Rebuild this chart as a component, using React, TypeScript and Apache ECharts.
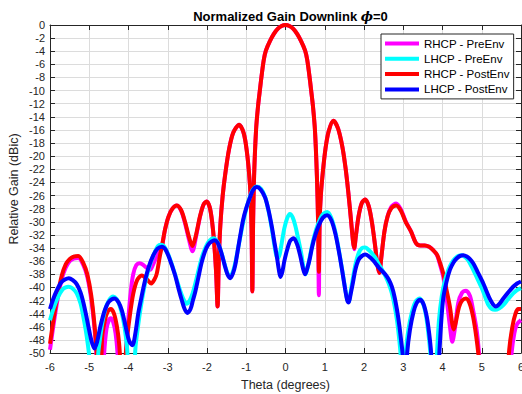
import React, { useEffect, useRef } from "react";
import * as echarts from "echarts";

const xTicks = [-6, -5, -4, -3, -2, -1, 0, 1, 2, 3, 4, 5, 6];
const seriesNames = ["RHCP - PreEnv", "LHCP - PreEnv", "RHCP - PostEnv", "LHCP - PostEnv"];
const seriesColors = ["#ff00ff", "#00ffff", "#ff0000", "#0000ff"];

const mainLobe: number[][] = [
  [-0.825, -30], [-0.8, -23], [-0.75, -16], [-0.7, -12.4], [-0.65, -9.8], [-0.6, -7.3], [-0.55, -5.2], [-0.5, -3.9],
  [-0.4, -2.5], [-0.3, -1.4], [-0.2, -0.6], [-0.1, -0.15], [0, 0], [0.1, -0.15], [0.2, -0.6], [0.3, -1.4], [0.4, -2.5],
  [0.5, -3.9], [0.55, -5.2], [0.6, -7.3], [0.65, -9.8], [0.7, -12.4], [0.75, -16], [0.8, -23], [0.83, -30],
];

const rhcpPost: number[][] = [
  [-6.0, -48.6], [-5.9, -44.5], [-5.8, -41], [-5.7, -38.2], [-5.6, -36.5], [-5.5, -35.7], [-5.4, -35.3], [-5.28, -35.2],
  [-5.15, -36.3], [-5.05, -38], [-4.95, -41.2], [-4.87, -45.5], [-4.81, -50], [-4.76, -57], [-4.71, -55], [-4.67, -47.5],
  [-4.6, -45], [-4.53, -43.7], [-4.45, -43.3], [-4.37, -44], [-4.3, -45.8], [-4.24, -48.5], [-4.19, -53], [-4.14, -57],
  [-4.09, -52], [-4.04, -48], [-3.97, -44.5], [-3.88, -41], [-3.78, -38.9], [-3.66, -38.2], [-3.54, -38.7], [-3.42, -39.4],
  [-3.34, -38.8], [-3.28, -37.9], [-3.2, -35.2], [-3.15, -33.8], [-3.07, -31.2], [-2.98, -29.2], [-2.88, -28], [-2.77, -27.5],
  [-2.66, -28.2], [-2.56, -30], [-2.46, -32.3], [-2.37, -33.7], [-2.28, -32], [-2.18, -29.2], [-2.09, -27.4], [-2.01, -26.9],
  [-1.93, -27.8], [-1.87, -30], [-1.82, -33], [-1.77, -37.5], [-1.73, -42.9], [-1.7, -36], [-1.66, -30.5], [-1.6, -26],
  [-1.53, -22.5], [-1.44, -19], [-1.33, -16.4], [-1.18, -15.2], [-1.06, -16.6], [-0.98, -19.5], [-0.93, -22.5], [-0.89, -26],
  [-0.865, -31], [-0.845, -40.6],
  ...mainLobe,
  [0.85, -37.6], [0.87, -30], [0.9, -26], [0.95, -22.5], [1.02, -18.8], [1.1, -16.2], [1.22, -14.6], [1.34, -15.8],
  [1.45, -18.6], [1.53, -21.8], [1.6, -25.5], [1.67, -29.8], [1.72, -33], [1.75, -34], [1.79, -32.3], [1.86, -29.2],
  [1.94, -27.2], [2.03, -26.6], [2.12, -27.6], [2.2, -30], [2.28, -33.5], [2.34, -36.5], [2.39, -37.8], [2.44, -35.5],
  [2.52, -31.5], [2.6, -29.2], [2.7, -27.9], [2.82, -27.5], [2.94, -28.3], [3.06, -30], [3.2, -31.5], [3.32, -33.2],
  [3.43, -33.6], [3.55, -33.6], [3.66, -33.8], [3.76, -34.3], [3.86, -35], [3.94, -36.3], [4.02, -37.9], [4.1, -40.3],
  [4.19, -43], [4.25, -45.6], [4.29, -46.4], [4.35, -45], [4.42, -43], [4.5, -42], [4.6, -41.7], [4.7, -42.6],
  [4.78, -44.5], [4.86, -47.5], [4.92, -50.5], [5.0, -56], [5.1, -62], [5.55, -62], [5.64, -55], [5.7, -49.5],
  [5.78, -46], [5.86, -44], [5.93, -43.3], [6.0, -43.3],
];

const rhcpPre: number[][] = [
  [-6.0, -49.5], [-5.9, -45.3], [-5.8, -41.6], [-5.7, -38.7], [-5.6, -37], [-5.5, -36], [-5.4, -35.6], [-5.28, -35.5],
  [-5.15, -36.6], [-5.05, -38.4], [-4.95, -41.8], [-4.87, -46], [-4.82, -50], [-4.77, -57], [-4.68, -57], [-4.62, -50],
  [-4.56, -46.3], [-4.5, -45], [-4.45, -44.7], [-4.39, -45.3], [-4.33, -47], [-4.28, -50], [-4.23, -57], [-4.1, -57],
  [-4.05, -49], [-4.0, -44.5], [-3.94, -40.5], [-3.88, -38], [-3.8, -36.6], [-3.71, -36.3], [-3.62, -36.6], [-3.52, -37.1],
  [-3.45, -37.3], [-3.38, -36.6], [-3.3, -35.5], [-3.22, -34.6], [-3.15, -33.8], [-3.07, -31.2], [-2.98, -29.2], [-2.88, -28],
  [-2.77, -27.5], [-2.66, -28.3], [-2.56, -30.2], [-2.46, -32.7], [-2.37, -34.5], [-2.28, -32.3], [-2.18, -29.3],
  [-2.09, -27.4], [-2.01, -26.9], [-1.93, -27.8], [-1.87, -30], [-1.82, -33], [-1.77, -37.5], [-1.73, -42.9], [-1.7, -36],
  [-1.66, -30.5], [-1.6, -26], [-1.53, -22.5], [-1.44, -19], [-1.33, -16.4], [-1.18, -15.2], [-1.06, -16.6], [-0.98, -19.5],
  [-0.93, -22.5], [-0.89, -26], [-0.865, -31], [-0.845, -40.6],
  ...mainLobe,
  [0.85, -41.2], [0.87, -30], [0.9, -26], [0.95, -22.5], [1.02, -18.8], [1.1, -16.2], [1.22, -14.6], [1.34, -15.8],
  [1.45, -18.6], [1.53, -21.8], [1.6, -25.5], [1.67, -29.8], [1.72, -33], [1.75, -34.2], [1.79, -32.3], [1.86, -29.2],
  [1.94, -27.2], [2.03, -26.6], [2.12, -27.6], [2.2, -30], [2.28, -33.5], [2.34, -36.5], [2.39, -37.8], [2.44, -35.5],
  [2.52, -31.5], [2.6, -29.2], [2.7, -27.7], [2.82, -27.2], [2.94, -28.1], [3.06, -29.9], [3.2, -31.5], [3.32, -33.2],
  [3.43, -33.6], [3.55, -33.6], [3.66, -33.8], [3.76, -34.3], [3.86, -35.1], [3.94, -36.6], [4.02, -38.4], [4.1, -41.5],
  [4.19, -46], [4.25, -48.3], [4.31, -46.5], [4.4, -42.4], [4.5, -40.8], [4.6, -40.5], [4.7, -41.3], [4.78, -43.5],
  [4.87, -46.5], [4.93, -50], [5.0, -56], [5.1, -62], [5.6, -62], [5.7, -55], [5.76, -50], [5.83, -47], [5.9, -45.6],
  [6.0, -45],
];

const lhcpPost: number[][] = [
  [-6.0, -43.3], [-5.92, -41.8], [-5.83, -40.5], [-5.72, -39.3], [-5.62, -38.8], [-5.52, -38.6], [-5.42, -38.9],
  [-5.32, -39.5], [-5.22, -40.8], [-5.15, -42.3], [-5.08, -44.2], [-5.02, -46], [-4.95, -48], [-4.87, -49.3], [-4.8, -48.3],
  [-4.73, -46.3], [-4.66, -44.6], [-4.6, -43.4], [-4.5, -42.2], [-4.36, -41.7], [-4.25, -42.3], [-4.17, -43.5], [-4.1, -45.2],
  [-4.05, -46.6], [-3.98, -48.2], [-3.9, -48.8], [-3.82, -46.8], [-3.75, -43.9], [-3.66, -41.2], [-3.58, -39], [-3.48, -36.8],
  [-3.37, -35.1], [-3.26, -34.1], [-3.15, -33.8], [-3.06, -34.2], [-2.95, -35.7], [-2.82, -38], [-2.72, -40.3], [-2.64, -42],
  [-2.57, -43.3], [-2.5, -43.9], [-2.42, -43.3], [-2.36, -42], [-2.3, -40.7], [-2.22, -38.5], [-2.14, -36.3], [-2.05, -34.5],
  [-1.97, -33.5], [-1.88, -33], [-1.81, -32.8], [-1.72, -33.3], [-1.63, -34.8], [-1.55, -36.6], [-1.48, -38], [-1.41, -38.6],
  [-1.34, -37.9], [-1.28, -36.6], [-1.22, -34.5], [-1.15, -32], [-1.08, -29.7], [-1.0, -27.9], [-0.9, -26.2], [-0.82, -25.1],
  [-0.73, -24.7], [-0.63, -25.1], [-0.52, -26.3], [-0.43, -28.3], [-0.35, -30.7], [-0.28, -33.2], [-0.22, -35.3],
  [-0.17, -37.3], [-0.13, -38.4], [-0.08, -37.6], [-0.03, -36], [0.04, -34.3], [0.12, -32.9], [0.21, -32.5], [0.3, -33.5],
  [0.38, -35.3], [0.45, -37.2], [0.5, -38], [0.56, -37], [0.62, -35.6], [0.68, -33.8], [0.76, -32], [0.85, -30.5],
  [0.95, -29.4], [1.06, -29], [1.17, -29.8], [1.27, -31.8], [1.36, -34.5], [1.44, -37.3], [1.52, -40.3], [1.57, -41.9],
  [1.61, -42.3], [1.66, -41], [1.72, -39.2], [1.78, -37.3], [1.86, -35.8], [1.95, -35.2], [2.03, -35], [2.13, -35.3],
  [2.22, -35.8], [2.29, -36.3], [2.38, -37], [2.46, -37.5], [2.54, -38], [2.63, -38.8], [2.71, -39.9], [2.78, -41.5],
  [2.84, -43.4], [2.9, -45.8], [2.95, -48.3], [2.99, -50.5], [3.03, -55], [3.07, -54], [3.1, -50], [3.17, -46.5],
  [3.26, -43.8], [3.34, -42.4], [3.43, -41.9], [3.52, -42.6], [3.6, -44.5], [3.66, -47], [3.71, -50], [3.76, -56],
  [3.86, -56], [3.92, -50], [3.97, -45], [4.02, -41.6], [4.1, -39.2], [4.19, -37.3], [4.28, -36.2], [4.36, -35.6],
  [4.45, -35.2], [4.53, -35.1], [4.62, -35.3], [4.7, -35.7], [4.79, -36.4], [4.9, -37.7], [5.04, -39.4], [5.13, -40.7],
  [5.21, -41.8], [5.29, -42.6], [5.36, -42.9], [5.45, -42.5], [5.55, -41.7], [5.67, -40.8], [5.8, -39.9], [5.9, -39.4],
  [6.0, -39.1],
];

const lhcpPre: number[][] = [
  [-6.0, -45], [-5.9, -43], [-5.79, -41.4], [-5.68, -40.3], [-5.6, -40], [-5.53, -39.9], [-5.44, -40.1], [-5.32, -40.9],
  [-5.22, -42.5], [-5.15, -44.5], [-5.09, -46.5], [-5.04, -48.5], [-5.0, -50.5], [-4.95, -54], [-4.82, -54], [-4.77, -50],
  [-4.73, -48], [-4.67, -45.5], [-4.6, -43.5], [-4.5, -42], [-4.39, -41.4], [-4.3, -41.8], [-4.22, -42.9], [-4.15, -44.5],
  [-4.09, -46.5], [-4.04, -49], [-4.0, -52], [-3.9, -55], [-3.85, -52], [-3.82, -49], [-3.77, -46.5], [-3.71, -43.9],
  [-3.63, -41], [-3.54, -38.4], [-3.44, -36.3], [-3.33, -34.6], [-3.25, -33.7], [-3.18, -33.5], [-3.1, -33.7], [-3.0, -34.8],
  [-2.9, -36.4], [-2.8, -38.3], [-2.7, -40.2], [-2.6, -41.8], [-2.52, -42.5], [-2.44, -42], [-2.36, -40.8], [-2.28, -39],
  [-2.2, -37], [-2.12, -35.2], [-2.03, -33.8], [-1.94, -32.9], [-1.84, -32.5], [-1.74, -33], [-1.65, -34.4], [-1.56, -36.3],
  [-1.48, -37.8], [-1.41, -38.3], [-1.34, -37.6], [-1.27, -36], [-1.2, -33.8], [-1.12, -31.3], [-1.04, -29], [-0.94, -26.8],
  [-0.84, -25.2], [-0.73, -24.6], [-0.62, -25], [-0.52, -26.2], [-0.43, -28.4], [-0.35, -31], [-0.29, -33.3], [-0.24, -35],
  [-0.2, -35.6], [-0.15, -35], [-0.09, -33], [-0.03, -31], [0.04, -29.5], [0.11, -28.8], [0.18, -29.3], [0.25, -30.6],
  [0.32, -32.5], [0.4, -34.8], [0.46, -37], [0.51, -38], [0.57, -36.8], [0.63, -35], [0.7, -33], [0.78, -31.2],
  [0.88, -29.6], [0.96, -28.8], [1.06, -28.5], [1.16, -29.3], [1.26, -31.3], [1.35, -34], [1.44, -37.2], [1.52, -40.2],
  [1.57, -41.8], [1.61, -42.2], [1.66, -40.7], [1.72, -38.5], [1.79, -36.3], [1.87, -34.7], [1.95, -34], [2.03, -33.9],
  [2.12, -34.3], [2.2, -34.8], [2.29, -35.5], [2.38, -36.5], [2.46, -37.3], [2.54, -38.2], [2.63, -39.4], [2.71, -40.9],
  [2.78, -42.8], [2.84, -45], [2.89, -47.5], [2.93, -50], [2.97, -54], [3.02, -53], [3.06, -50], [3.13, -46.5],
  [3.22, -43.8], [3.31, -42.2], [3.41, -41.7], [3.5, -42.4], [3.58, -44.3], [3.64, -47], [3.69, -50], [3.74, -55],
  [3.81, -55], [3.86, -50], [3.91, -45], [3.98, -41.4], [4.06, -39], [4.15, -37.3], [4.24, -36.2], [4.32, -35.6],
  [4.41, -35.2], [4.49, -35.1], [4.58, -35.4], [4.66, -35.9], [4.74, -36.8], [4.86, -38.3], [5.0, -40.1], [5.09, -41.5],
  [5.17, -42.7], [5.26, -43.3], [5.34, -43.4], [5.44, -43.2], [5.55, -42.7], [5.67, -41.8], [5.8, -40.9], [5.9, -40.4],
  [6.0, -40.1],
];

const FONT = "Liberation Sans, Arial, Helvetica, sans-serif";
const AXIS_COLOR = "#262626";

export default function App() {
  const ref = useRef<HTMLDivElement>(null);
  useEffect(() => {
    if (!ref.current) return;
    const chart = echarts.init(ref.current, undefined, { renderer: "svg", width: 522, height: 394 });
    const axisCommonX = {
      type: "value" as const,
      min: xTicks[0],
      max: xTicks[xTicks.length - 1],
      interval: 1,
      axisLine: { show: true, onZero: false, lineStyle: { color: AXIS_COLOR, width: 1 } },
      axisTick: { show: true, inside: true, length: 5, lineStyle: { color: AXIS_COLOR } },
    };
    const axisCommonY = {
      type: "value" as const,
      min: -50,
      max: 0,
      interval: 2,
      axisLine: { show: true, onZero: false, lineStyle: { color: AXIS_COLOR, width: 1 } },
      axisTick: { show: true, inside: true, length: 5, lineStyle: { color: AXIS_COLOR } },
    };
    const dataSets = [rhcpPre, lhcpPre, rhcpPost, lhcpPost];
    const drawOrder = [0, 2, 1, 3];
    chart.setOption({
      animation: false,
      backgroundColor: "#ffffff",
      title: {
        text: "{a|Normalized Gain Downlink }{b|ϕ}{a|=0}",
        left: 285.5,
        top: 5,
        textAlign: "center",
        textStyle: {
          rich: {
            a: { fontFamily: FONT, fontSize: 13, fontWeight: "bold", color: "#000" },
            b: { fontFamily: "DejaVu Serif, serif", fontSize: 13, fontStyle: "italic", fontWeight: "bold", color: "#000" },
          },
        },
      },
      grid: { left: 50, right: 1, top: 25, bottom: 41, containLabel: false, outerBoundsMode: "none" },
      legend: {
        data: seriesNames,
        orient: "vertical",
        left: 381,
        top: 34,
        icon: "rect",
        itemWidth: 34,
        itemHeight: 4,
        itemGap: 2.3,
        padding: [3, 4, 3, 4],
        backgroundColor: "#ffffff",
        borderColor: AXIS_COLOR,
        borderWidth: 1,
        textStyle: { fontFamily: FONT, fontSize: 11.5, color: "#000", lineHeight: 13 },
      },
      xAxis: [
        {
          ...axisCommonX,
          position: "bottom",
          axisLabel: { show: true, fontFamily: FONT, fontSize: 11, color: AXIS_COLOR, margin: 8 },
          splitLine: { show: true, lineStyle: { color: "#dcdcdc", width: 1 } },
        },
        {
          ...axisCommonX,
          position: "top",
          axisLabel: { show: false },
          splitLine: { show: false },
        },
      ],
      yAxis: [
        {
          ...axisCommonY,
          position: "left",
          axisLabel: { show: true, fontFamily: FONT, fontSize: 11, color: AXIS_COLOR, margin: 5 },
          splitLine: { show: true, lineStyle: { color: "#dcdcdc", width: 1 } },
        },
        {
          ...axisCommonY,
          position: "right",
          axisLabel: { show: false },
          splitLine: { show: false },
        },
      ],
      graphic: [
        {
          type: "text",
          x: 14,
          y: 189,
          rotation: Math.PI / 2,
          style: {
            text: "Relative Gain (dBic)",
            fontFamily: FONT,
            fontSize: 12.5,
            fill: AXIS_COLOR,
            align: "center",
            verticalAlign: "middle",
          },
        },
        {
          type: "text",
          x: 285.5,
          y: 385,
          style: {
            text: "Theta (degrees)",
            fontFamily: FONT,
            fontSize: 12.5,
            fill: AXIS_COLOR,
            align: "center",
            verticalAlign: "middle",
          },
        },
      ],
      series: drawOrder.map((i) => ({
        name: seriesNames[i],
        type: "line",
        xAxisIndex: 0,
        yAxisIndex: 0,
        data: dataSets[i],
        showSymbol: false,
        symbol: "none",
        smooth: 0.3,
        clip: true,
        lineStyle: { color: seriesColors[i], width: 4 },
        itemStyle: { color: seriesColors[i] },
        emphasis: { disabled: true },
        z: 2 + drawOrder.indexOf(i),
      })),
    });
    return () => chart.dispose();
  }, []);
  return <div ref={ref} style={{ position: "fixed", left: 0, top: 0, width: 522, height: 394 }} />;
}
